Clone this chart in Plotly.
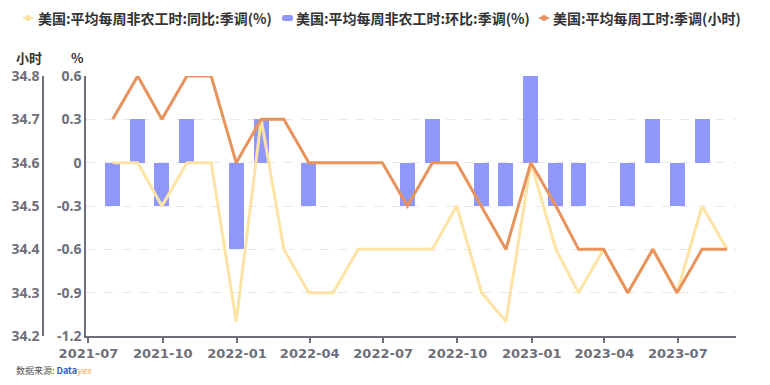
import pandas as pd
import plotly.graph_objects as go

months = ["2021-07","2021-08","2021-09","2021-10","2021-11","2021-12",
          "2022-01","2022-02","2022-03","2022-04","2022-05","2022-06",
          "2022-07","2022-08","2022-09","2022-10","2022-11","2022-12",
          "2023-01","2023-02","2023-03","2023-04","2023-05","2023-06",
          "2023-07","2023-08"]
yoy = [0, 0, -0.3, 0, 0, -1.1, 0.3, -0.6, -0.9, -0.9, -0.6, -0.6,
       -0.6, -0.6, -0.3, -0.9, -1.1, 0, -0.6, -0.9, -0.6, -0.9, -0.6, -0.9,
       -0.3, -0.6]
mom = [-0.3, 0.3, -0.3, 0.3, 0, -0.6, 0.3, 0, -0.3, 0, 0, 0,
       -0.3, 0.3, 0, -0.3, -0.3, 0.6, -0.3, -0.3, 0, -0.3, 0.3, -0.3,
       0.3, 0]
hours = [34.7, 34.8, 34.7, 34.8, 34.8, 34.6, 34.7, 34.7, 34.6, 34.6, 34.6, 34.6,
         34.5, 34.6, 34.6, 34.5, 34.4, 34.6, 34.5, 34.4, 34.4, 34.3, 34.4, 34.3,
         34.4, 34.4]
pct_ticks = [0.6, 0.3, 0, -0.3, -0.6, -0.9, -1.2]
pct_ticktext = ["0.6", "0.3", "0", "-0.3", "-0.6", "-0.9", "-1.2"]
hour_ticks = [34.8, 34.7, 34.6, 34.5, 34.4, 34.3, 34.2]
hour_ticktext = ["34.8", "34.7", "34.6", "34.5", "34.4", "34.3", "34.2"]
x_ticks = ["2021-07-01","2021-10-01","2022-01-01","2022-04-01","2022-07-01",
           "2022-10-01","2023-01-01","2023-04-01","2023-07-01"]
x_ticktext = ["2021-07","2021-10","2022-01","2022-04","2022-07",
              "2022-10","2023-01","2023-04","2023-07"]

names = ["美国:平均每周非农工时:同比:季调(%)",
         "美国:平均每周非农工时:环比:季调(%)",
         "美国:平均每周工时:季调(小时)"]

dates = [(pd.Timestamp(m + "-01") + pd.offsets.MonthEnd(0)).strftime("%Y-%m-%d") for m in months]

C_YOY = "#FDE3A4"
C_MOM = "#9097FB"
C_HRS = "#E8935C"
GRAY = "#6E7079"
XTICKFONT = dict(family="DejaVu Sans", size=13, color=GRAY, weight="bold")
YTICKFONT = dict(family="Noto Sans", size=14, color=GRAY, weight="bold")
LEGFONT = dict(family="Noto Sans CJK SC", size=14, color="#333", weight="bold")
UNITFONT = dict(family="Noto Sans CJK SC", size=13, color="#333", weight="bold")

# page offset of the figure inside the html body (default 8px body margin)
OFF = 8
W, H = 770 - 2 * OFF, 385 - 2 * OFF
PL, PR, PT, PB = 86, 736, 76, 336          # plot area in page pixels
L = 2
R = W - (PR - OFF)
T = PT - OFF
B = H - (PB - OFF)
pw = W - L - R
ph = H - T - B


def px(x):
    return (x - OFF - L) / pw


def py(y):
    return (PB - y) / ph


fig = go.Figure()
fig.add_trace(go.Bar(x=dates, y=mom, marker=dict(color=C_MOM, line=dict(width=0)),
                     width=18.6 * 86400000, yaxis="y", showlegend=False, name=names[1]))
fig.add_trace(go.Scatter(x=dates, y=yoy, mode="lines", line=dict(color=C_YOY, width=3),
                         yaxis="y", showlegend=False, name=names[0]))
fig.add_trace(go.Scatter(x=dates, y=hours, mode="lines", line=dict(color=C_HRS, width=3),
                         yaxis="y2", showlegend=False, name=names[2]))

# manual legend
LY = 18
shapes = []
annotations = []
for x0, x1, col, kind in [(23, 33, C_YOY, "line"), (282, 293, C_MOM, "bar"), (539, 549, C_HRS, "line")]:
    if kind == "line":
        shapes.append(dict(type="line", xref="paper", yref="paper", x0=px(x0), x1=px(x1),
                           y0=py(LY), y1=py(LY), line=dict(color=col, width=2)))
        xc = (x0 + x1) / 2
        shapes.append(dict(type="circle", xref="paper", yref="paper",
                           x0=px(xc - 3), x1=px(xc + 3), y0=py(LY + 3), y1=py(LY - 3),
                           fillcolor=col, line=dict(width=0)))
    else:
        a, b_, t_, bt = x0, x1, LY - 3, LY + 3
        r = 2.5
        path = (f"M {px(a + r)} {py(t_)} L {px(b_ - r)} {py(t_)} Q {px(b_)} {py(t_)} {px(b_)} {py(t_ + r)} "
                f"L {px(b_)} {py(bt - r)} Q {px(b_)} {py(bt)} {px(b_ - r)} {py(bt)} "
                f"L {px(a + r)} {py(bt)} Q {px(a)} {py(bt)} {px(a)} {py(bt - r)} "
                f"L {px(a)} {py(t_ + r)} Q {px(a)} {py(t_)} {px(a + r)} {py(t_)} Z")
        shapes.append(dict(type="path", xref="paper", yref="paper", path=path,
                           fillcolor=col, line=dict(width=0)))

for x0, name in zip([36, 294, 551], names):
    annotations.append(dict(text=name, x=px(x0), y=py(LY), xref="paper", yref="paper",
                            showarrow=False, xanchor="left", yanchor="middle", font=LEGFONT))

annotations += [
    dict(text="小时", x=px(29), y=py(57), xref="paper", yref="paper",
         showarrow=False, xanchor="center", yanchor="middle", font=UNITFONT),
    dict(text="%", x=px(77.5), y=py(57), xref="paper", yref="paper",
         showarrow=False, xanchor="center", yanchor="middle", font=UNITFONT),
    dict(text="数据来源: <span style='color:#2E5BBA'><b>Data</b></span><span style='color:#F0A050'><i>yes</i></span>",
         x=px(14), y=py(370), xref="paper", yref="paper",
         showarrow=False, xanchor="left", yanchor="middle",
         font=dict(family="Noto Sans CJK SC", size=9, color="#555")),
]

fig.update_layout(
    width=W, height=H,
    margin=dict(l=L, r=R, t=T, b=B, pad=0, autoexpand=False),
    paper_bgcolor="white", plot_bgcolor="white",
    bargap=0, showlegend=False,
    font=dict(family="Noto Sans CJK SC", color="#333"),
    xaxis=dict(type="date", domain=[px(PL), 1],
               range=["2021-06-28", "2023-09-11"],
               tickvals=x_ticks, ticktext=x_ticktext,
               showgrid=False, showline=True, linecolor=GRAY, linewidth=1.5,
               ticks="outside", ticklen=5, tickcolor=GRAY, tickwidth=1.5,
               tickfont=XTICKFONT, zeroline=False, anchor="y"),
    yaxis=dict(range=[-1.2, 0.6], tickvals=pct_ticks, ticktext=pct_ticktext,
               showgrid=True, gridcolor="#E8E8E8", griddash="dash", gridwidth=1,
               showline=True, linecolor=GRAY, linewidth=1.5, zeroline=False,
               ticks="", tickfont=YTICKFONT, anchor="x"),
    yaxis2=dict(range=[34.2, 34.8], tickvals=hour_ticks, ticktext=hour_ticktext,
                overlaying="y", side="left", anchor="free", position=px(43),
                showgrid=False, showline=True, linecolor=GRAY, linewidth=1.5,
                zeroline=False, ticks="", tickfont=YTICKFONT),
    shapes=shapes,
    annotations=annotations,
)

fig.write_html("out.html")
